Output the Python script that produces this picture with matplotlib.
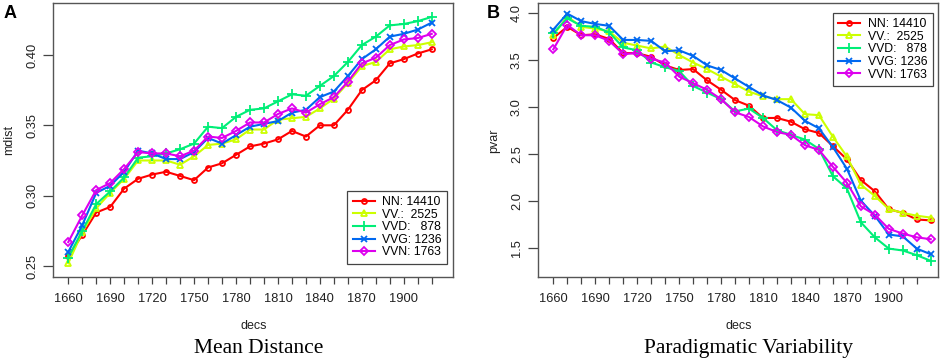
import numpy as np
import matplotlib
matplotlib.use("Agg")
import matplotlib.pyplot as plt

plt.rcParams['font.family'] = ['Liberation Sans', 'DejaVu Sans']

decs = list(range(1660, 1940, 10))          # 1660 .. 1930
tick_years = list(range(1660, 1930, 10))    # axis ticks 1660 .. 1920
tick_labels = [str(y) if (y - 1660) % 30 == 0 else '' for y in tick_years]

names = ['NN: 14410', 'VV.:  2525', 'VVD:   878', 'VVG: 1236', 'VVN: 1763']
colors = ['#FF0000', '#CCFF00', '#00EE77', '#0068F0', '#DD00EE']
markers = ['o', '^', '+', 'x', 'D']
msizes = [3.6, 5.0, 6.5, 5.0, 4.2]

# panel A: mean distance (1660-1920)
mdist_nn = [0.257, 0.272, 0.288, 0.292, 0.305, 0.312, 0.315, 0.317, 0.314, 0.311,
            0.320, 0.323, 0.329, 0.335, 0.337, 0.340, 0.346, 0.342, 0.350, 0.350,
            0.361, 0.375, 0.382, 0.394, 0.397, 0.401, 0.404]
mdist_vv = [0.252, 0.274, 0.291, 0.302, 0.312, 0.325, 0.325, 0.325, 0.322, 0.328,
            0.336, 0.337, 0.340, 0.347, 0.347, 0.354, 0.355, 0.356, 0.362, 0.369,
            0.380, 0.392, 0.395, 0.404, 0.406, 0.407, 0.409]
mdist_vvd = [0.256, 0.275, 0.294, 0.303, 0.313, 0.327, 0.328, 0.330, 0.333, 0.337,
             0.349, 0.348, 0.356, 0.361, 0.362, 0.367, 0.372, 0.371, 0.378, 0.385,
             0.395, 0.407, 0.413, 0.421, 0.422, 0.424, 0.427]
mdist_vvg = [0.260, 0.279, 0.302, 0.307, 0.317, 0.332, 0.330, 0.326, 0.326, 0.331,
             0.341, 0.337, 0.343, 0.349, 0.351, 0.353, 0.359, 0.361, 0.370, 0.374,
             0.385, 0.397, 0.404, 0.413, 0.415, 0.418, 0.423]
mdist_vvn = [0.267, 0.286, 0.304, 0.309, 0.319, 0.331, 0.330, 0.330, 0.328, 0.332,
             0.342, 0.341, 0.346, 0.352, 0.352, 0.358, 0.362, 0.359, 0.365, 0.370,
             0.381, 0.394, 0.398, 0.407, 0.411, 0.412, 0.415]

# panel B: paradigmatic variability (1660-1930)
pvar_nn = [3.73, 3.85, 3.76, 3.77, 3.72, 3.57, 3.57, 3.53, 3.44, 3.39,
           3.40, 3.28, 3.18, 3.07, 3.01, 2.88, 2.88, 2.84, 2.76, 2.72,
           2.58, 2.44, 2.22, 2.10, 1.91, 1.87, 1.80, 1.79]
pvar_vv = [3.76, 3.96, 3.85, 3.83, 3.80, 3.68, 3.65, 3.62, 3.64, 3.55,
           3.47, 3.40, 3.32, 3.24, 3.16, 3.11, 3.08, 3.08, 2.92, 2.91,
           2.68, 2.47, 2.17, 2.05, 1.91, 1.87, 1.84, 1.82]
pvar_vvd = [3.78, 3.94, 3.86, 3.85, 3.79, 3.63, 3.60, 3.47, 3.42, 3.38,
            3.22, 3.15, 3.08, 2.95, 2.98, 2.88, 2.75, 2.70, 2.65, 2.55,
            2.26, 2.13, 1.77, 1.61, 1.49, 1.47, 1.42, 1.36]
pvar_vvg = [3.82, 3.99, 3.91, 3.88, 3.86, 3.71, 3.71, 3.70, 3.59, 3.60,
            3.54, 3.44, 3.39, 3.30, 3.21, 3.12, 3.07, 2.99, 2.85, 2.77,
            2.57, 2.34, 2.00, 1.84, 1.64, 1.62, 1.49, 1.43]
pvar_vvn = [3.61, 3.87, 3.76, 3.76, 3.70, 3.56, 3.57, 3.51, 3.47, 3.32,
            3.25, 3.18, 3.08, 2.94, 2.89, 2.79, 2.73, 2.70, 2.59, 2.54,
            2.36, 2.19, 1.94, 1.85, 1.70, 1.65, 1.61, 1.59]

mdist = [mdist_nn, mdist_vv, mdist_vvd, mdist_vvg, mdist_vvn]
pvar = [pvar_nn, pvar_vv, pvar_vvd, pvar_vvg, pvar_vvn]

fig = plt.figure(figsize=(9.4, 3.61), dpi=100)
axA = fig.add_axes([0.0567, 0.2319, 0.4255, 0.759])
axB = fig.add_axes([0.5727, 0.2319, 0.4255, 0.759])

def draw(ax, series, ylim, yticks, ylab, legend_loc, anchor):
    for vals, name, c, m, ms in zip(series, names, colors, markers, msizes):
        ax.plot(decs[:len(vals)], vals, color=c, lw=1.5, marker=m, ms=ms,
                mfc='none', mec=c, mew=1.3, label=name)
    ax.set_xlim(1649.3, 1935.4)
    ax.set_ylim(*ylim)
    ax.set_xticks(tick_years)
    ax.set_xticklabels(tick_labels)
    ax.set_yticks(yticks)
    ax.set_yticklabels(['%.2f' % t if ylab == 'mdist' else '%.1f' % t for t in yticks],
                       rotation=90, va='center')
    ax.tick_params(axis='x', length=5, width=0.9, color='#444', pad=6,
                   labelsize=9.3, labelcolor='#222')
    ax.tick_params(axis='y', length=7, width=0.9, color='#444', pad=4,
                   labelsize=9.3, labelcolor='#222')
    for s in ax.spines.values():
        s.set_color('#555')
        s.set_linewidth(1.0)
    ax.set_xlabel('decs', fontsize=9, labelpad=11, color='#222')
    ax.set_ylabel(ylab, fontsize=9, labelpad=8, color='#222')
    leg = ax.legend(loc=legend_loc, bbox_to_anchor=anchor, borderaxespad=0,
                    fancybox=False, framealpha=1, edgecolor='#444',
                    fontsize=8.8, handlelength=1.8, handletextpad=0.6,
                    labelspacing=0.05, borderpad=0.45)
    leg.get_frame().set_linewidth(0.9)

draw(axA, mdist, (0.242, 0.4367), [0.25, 0.30, 0.35, 0.40], 'mdist',
     'lower right', (0.984, 0.0485))
draw(axB, pvar, (1.185, 4.10), [1.5, 2.0, 2.5, 3.0, 3.5, 4.0], 'pvar',
     'upper right', (0.986, 0.966))

fig.text(0.004, 0.985, 'A', fontsize=13, fontweight='bold', va='top', ha='left')
fig.text(0.518, 0.985, 'B', fontsize=13, fontweight='bold', va='top', ha='left')

fig.text(0.275, 0.036, 'Mean Distance', fontsize=15.5, family='Liberation Serif',
         ha='center', va='center')
fig.text(0.796, 0.036, 'Paradigmatic Variability', fontsize=15.5,
         family='Liberation Serif', ha='center', va='center')

fig.savefig('out.png', dpi=100)
